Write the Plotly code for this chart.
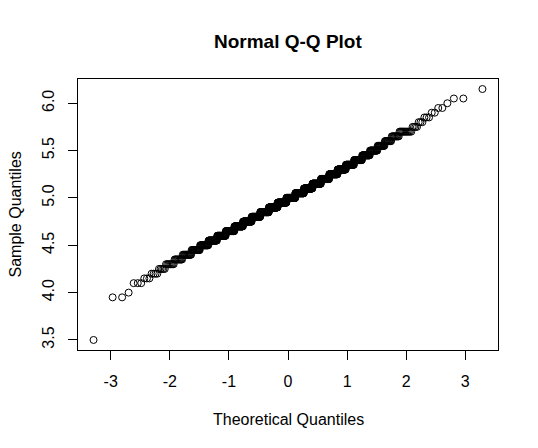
import plotly.graph_objects as go
from statistics import NormalDist

# Sample values (rounded to 0.05) and how many observations take each value
sample_levels = [3.50, 3.95, 4.00, 4.10, 4.15, 4.20, 4.25, 4.30, 4.35, 4.40,
                 4.45, 4.50, 4.55, 4.60, 4.65, 4.70, 4.75, 4.80, 4.85, 4.90,
                 4.95, 5.00, 5.05, 5.10, 5.15, 5.20, 5.25, 5.30, 5.35, 5.40,
                 5.45, 5.50, 5.55, 5.60, 5.65, 5.70, 5.75, 5.80, 5.85, 5.90,
                 5.95, 6.00, 6.05, 6.15]
level_counts = [1, 2, 1, 3, 3, 4, 5, 8, 10, 14,
                17, 21, 26, 31, 36, 41, 46, 50, 54, 57,
                59, 60, 57, 54, 51, 46, 42, 37, 32, 27,
                22, 18, 14, 11, 10, 12, 4, 3, 3, 2,
                2, 1, 2, 1]

x_ticks = [-3, -2, -1, 0, 1, 2, 3]
y_ticks = [3.5, 4.0, 4.5, 5.0, 5.5, 6.0]
y_tick_text = ["3.5", "4.0", "4.5", "5.0", "5.5", "6.0"]

# qqnorm: sorted sample vs normal quantiles of ppoints(n)
sample = []
for v, c in zip(sample_levels, level_counts):
    sample.extend([v] * c)
sample.sort()
n = len(sample)
nd = NormalDist()
theoretical = [nd.inv_cdf((i + 0.5) / n) for i in range(n)]

FONT = "Liberation Sans, Arial, Helvetica, sans-serif"

fig = go.Figure(go.Scatter(
    x=theoretical, y=sample, mode="markers",
    marker=dict(symbol="circle-open", size=7, color="black", line=dict(width=1, color="black")),
    hoverinfo="x+y", showlegend=False,
))

xpad = (max(theoretical) - min(theoretical)) * 0.04
ypad = (max(sample) - min(sample)) * 0.04

fig.update_layout(
    width=538, height=448,
    margin=dict(l=78, r=40, t=79, b=98, pad=0),
    paper_bgcolor="white", plot_bgcolor="white",
    font=dict(family=FONT, size=16, color="black"),
    xaxis=dict(
        range=[min(theoretical) - xpad, max(theoretical) + xpad],
        tickmode="array", tickvals=x_ticks, ticktext=[str(t) for t in x_ticks],
        ticks="outside", ticklen=9, tickwidth=1, tickcolor="black",
        showline=True, linecolor="black", linewidth=1, mirror=True,
        showgrid=False, zeroline=False, ticklabelstandoff=8,
        tickfont=dict(size=16),
    ),
    yaxis=dict(
        range=[min(sample) - ypad, max(sample) + ypad],
        tickmode="array", tickvals=y_ticks, ticktext=y_tick_text,
        ticks="outside", ticklen=9, tickwidth=1, tickcolor="black",
        showline=True, linecolor="black", linewidth=1, mirror=True,
        showgrid=False, zeroline=False, tickangle=-90, ticklabelstandoff=8,
        tickfont=dict(size=16),
    ),
    annotations=[
        dict(text="<b>Normal Q-Q Plot</b>", xref="paper", yref="paper", x=0.5, y=1,
             yshift=38, xanchor="center", yanchor="middle", showarrow=False,
             font=dict(size=19, family=FONT)),
        dict(text="Theoretical Quantiles", xref="paper", yref="paper", x=0.5, y=0,
             yshift=-69, xanchor="center", yanchor="middle", showarrow=False,
             font=dict(size=16, family=FONT)),
        dict(text="Sample Quantiles", xref="paper", yref="paper", x=0, y=0.5,
             xshift=-63, xanchor="center", yanchor="middle", textangle=-90,
             showarrow=False, font=dict(size=16, family=FONT)),
    ],
)

fig.write_html(
    "out.html",
    config={"displayModeBar": False},
    post_script="document.body.style.margin='0';document.body.style.overflow='hidden';",
)
